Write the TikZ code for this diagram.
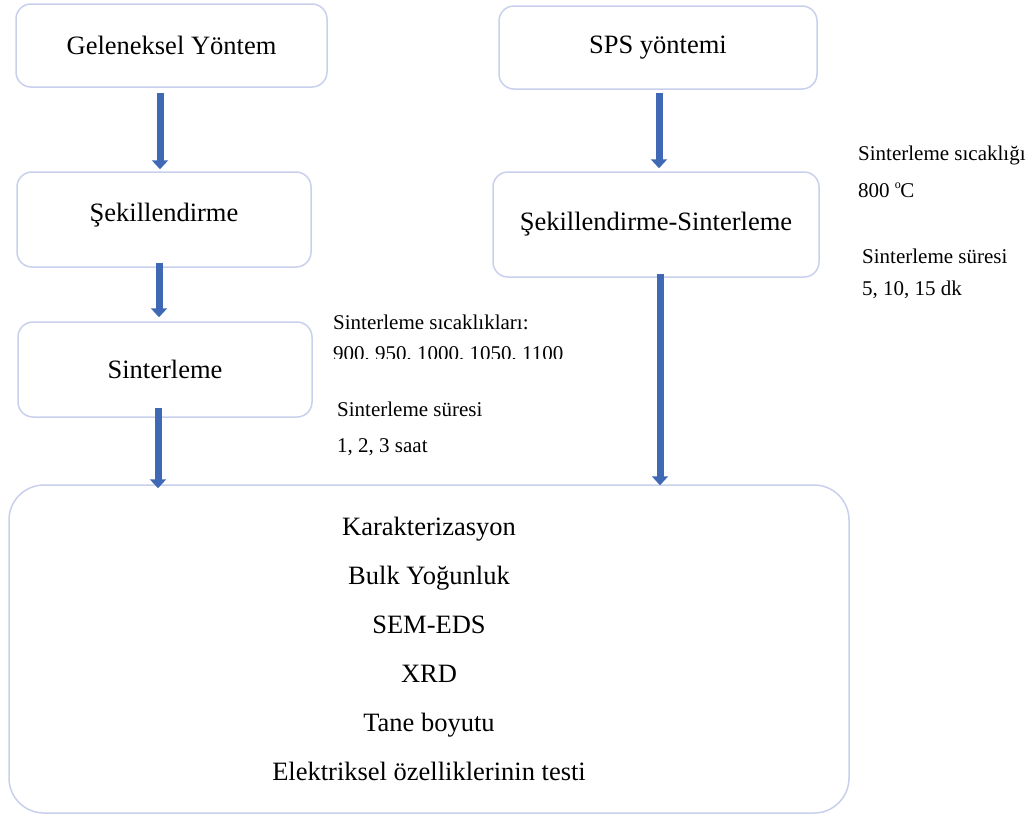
\documentclass[tikz,border=0pt]{standalone}
\usepackage{fontspec}
\setmainfont{Liberation Serif}
\usepackage{tikz}
\usetikzlibrary{positioning, arrows.meta, calc}
\definecolor{boxline}{HTML}{C9D0EC}
\definecolor{arrowblue}{HTML}{3F68B5}

\begin{document}
\begin{tikzpicture}[
    x=1pt, y=-1pt,
    stepbox/.style={draw=boxline, line width=1.5pt, rectangle, rounded corners=15pt, fill=white, font=\fontsize{26.5}{30}\selectfont, inner sep=0pt},
    resultbox/.style={stepbox, rounded corners=35pt, align=center, font=\fontsize{26.5}{49}\selectfont},
    blockarrow/.style={draw=arrowblue, line width=7pt, -{Triangle[width=16pt, length=9pt]}},
    note/.style={anchor=west, inner sep=0pt, font=\fontsize{21}{25}\selectfont}
]
\useasboundingbox (0,0) rectangle (1030,814);

% Kutular
\node[stepbox, minimum width=311pt, minimum height=83pt] (gelen) at (171.5,45.5) {Geleneksel Yöntem};
\node[stepbox, minimum width=318pt, minimum height=83pt] (sps) at (658,47.5) {SPS yöntemi};
\node[stepbox, minimum width=294pt, minimum height=95pt, text depth=14pt] (sekil) at (164,219.5) {Şekillendirme};
\node[stepbox, minimum width=326pt, minimum height=105pt] (sekilsint) at (656,224.5) {Şekillendirme-Sinterleme};
\node[stepbox, minimum width=294pt, minimum height=95pt] (sinter) at (165,369.5) {Sinterleme};
\node[resultbox, minimum width=840pt, minimum height=328pt] (karakter) at (429,649) {Karakterizasyon\\Bulk Yoğunluk\\SEM-EDS\\XRD\\Tane boyutu\\Elektriksel özelliklerinin testi};

% Notlar
\node[note] (sicaklar) at (333,322) {Sinterleme sıcaklıkları:};
\begin{scope}
\clip (325,335) rectangle (600,358);
\node[note] (sicakdeger) at (333,355) {900, 950, 1000, 1050, 1100};
\end{scope}
\node[note] (sure) at (337,409) {Sinterleme süresi};
\node[note] (suredeger) at (337,447) {1, 2, 3 saat};
\node[note] (spssicak) at (858,155) {Sinterleme sıcaklığı};
\node[note] (spssicakdeger) at (858,190) {800 \raisebox{9pt}{\fontsize{12}{12}\selectfont o}\kern-0.5pt C};
\node[note] (spssure) at (862,256) {Sinterleme süresi};
\node[note] (spssuredeger) at (862,290) {5, 10, 15 dk};

% Oklar
\draw[blockarrow, shorten <=5pt, shorten >=2pt] ([xshift=-11.5pt]gelen.south) -- ([xshift=-11.5pt]gelen.south |- sekil.north);
\draw[blockarrow, shorten <=3pt, shorten >=3pt] ([xshift=1pt]sps.south) -- ([xshift=1pt]sps.south |- sekilsint.north);
\draw[blockarrow, shorten >=4pt] ([xshift=-5pt, yshift=5pt]sekil.south) -- ([xshift=-5pt]sekil.south |- sinter.north);
\draw[blockarrow, shorten >=-4pt] ([xshift=-7pt, yshift=10pt]sinter.south) -- ([xshift=-7pt]sinter.south |- karakter.north);
\draw[blockarrow, shorten >=-1pt] ([xshift=4pt, yshift=4pt]sekilsint.south) -- ([xshift=4pt]sekilsint.south |- karakter.north);

\end{tikzpicture}
\end{document}
